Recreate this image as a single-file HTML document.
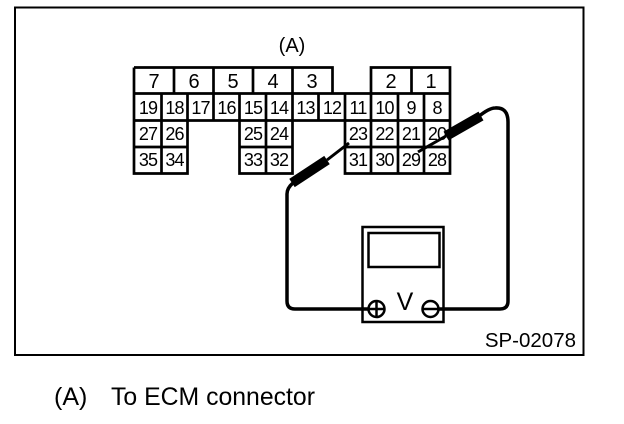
<!DOCTYPE html>
<html><head><meta charset="utf-8"><style>
html,body{margin:0;padding:0;background:#fff;width:624px;height:424px;overflow:hidden}
svg{display:block}
text{font-family:"Liberation Sans",sans-serif;fill:#000}
</style></head><body>
<svg width="624" height="424" viewBox="0 0 624 424" xmlns="http://www.w3.org/2000/svg">
<rect x="15" y="7.5" width="568.5" height="347.5" fill="none" stroke="#000" stroke-width="2"/>
<text x="292" y="52" font-size="20" text-anchor="middle">(A)</text>
<g fill="none" stroke="#000" stroke-width="2.7">
<path d="M134 67.5H332.5V93.5M134 67.5V173.5H187.5V93.5M134 93.5H450M134 120.5H345M134 147H187.5M161.5 93.5V173.5M174 67.5V93.5M213.5 67.5V120.5M253 67.5V93.5M292.5 67.5V93.5M239.5 93.5V173.5H292.5V93.5M266 93.5V173.5M239.5 147H292.5"/>
<path d="M371 93.5V67.5H450V173.5H345V93.5M411.5 67.5V93.5M318.5 93.5V120.5M345 120.5H450M345 147H450M371 93.5V173.5M398 93.5V173.5M424 93.5V173.5"/>
</g>
<g font-size="20" text-anchor="middle">
<text x="154" y="88">7</text><text x="194" y="88">6</text><text x="233" y="88">5</text><text x="273" y="88">4</text><text x="312" y="88">3</text><text x="391" y="88">2</text><text x="431" y="88">1</text>
</g>
<g font-size="18" text-anchor="middle" letter-spacing="-0.9">
<text x="148" y="114">19</text><text x="174.5" y="114">18</text><text x="200.5" y="114">17</text><text x="226.5" y="114">16</text><text x="253" y="114">15</text><text x="279" y="114">14</text><text x="305.5" y="114">13</text><text x="332" y="114">12</text><text x="358" y="114">11</text><text x="384.5" y="114">10</text><text x="411" y="114">9</text><text x="437" y="114">8</text>
<text x="148" y="140">27</text><text x="174.5" y="140">26</text><text x="253" y="140">25</text><text x="279" y="140">24</text><text x="358" y="140">23</text><text x="384.5" y="140">22</text><text x="411" y="140">21</text><text x="437" y="140">20</text>
<text x="148" y="166">35</text><text x="174.5" y="166">34</text><text x="253" y="166">33</text><text x="279" y="166">32</text><text x="358" y="166">31</text><text x="384.5" y="166">30</text><text x="411" y="166">29</text><text x="437" y="166">28</text>
</g>
<rect x="362.5" y="227" width="81" height="95" fill="#fff" stroke="#000" stroke-width="2.5"/>
<rect x="368.5" y="233" width="71" height="34" fill="none" stroke="#000" stroke-width="2.5"/>
<g fill="none" stroke="#000">
<path d="M287 194V301Q287 309 295 309H369" stroke-width="3.5"/>
<path d="M438 309H500Q508 309 508 301V122Q508 107 495 108Q489 108 478 117" stroke-width="3.5"/>
<path d="M287 194Q287 188 293 183" stroke-width="3.5"/>
<path d="M292 183L327 160" stroke-width="10"/>
<path d="M327 160L349 143" stroke-width="3"/>
<path d="M481 116L446 136" stroke-width="10"/>
<path d="M446 136L418 152" stroke-width="3"/>
<circle cx="376.5" cy="309" r="8" fill="#fff" stroke-width="2.5"/>
<path d="M376.5 301V317M368.5 309H384.5" stroke-width="2.5"/>
<circle cx="430.5" cy="309" r="8" fill="#fff" stroke-width="2.5"/>
<path d="M422.5 309H438.5" stroke-width="2.5"/>
</g>
<text x="405" y="310" font-size="25" text-anchor="middle">V</text>
<text x="576" y="347" font-size="20.5" text-anchor="end">SP-02078</text>
<text x="54" y="405" font-size="25">(A)</text>
<text x="111" y="405" font-size="24.8">To ECM connector</text>
</svg>
</body></html>
